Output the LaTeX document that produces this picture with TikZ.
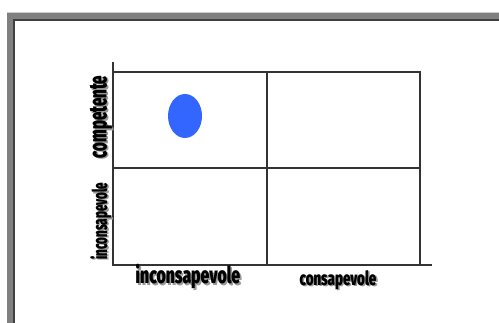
\documentclass[tikz,border=0pt]{standalone}
\usepackage{fontspec}
\setmainfont{Liberation Sans}
\newfontfamily\heavyfont{Fira Sans}[UprightFont={* Black}]
\usepackage{graphicx}
\usetikzlibrary{positioning}
\definecolor{frameGray}{RGB}{128,128,128}
\definecolor{frameDark}{RGB}{64,64,64}
\definecolor{dotBlue}{RGB}{51,102,255}
% squeeze a heavy label into a given width and total height
\newcommand{\squeezed}[3]{\resizebox*{#1}{#2}{\heavyfont #3}}
\tikzset{
  gridline/.style={draw=black!80, line width=0.6pt},
  lbl/.style={inner sep=0pt, text=black},
  lblshadow/.style={inner sep=0pt, text=black!40, xshift=0.9pt, yshift=-0.9pt},
}

\begin{document}
\begin{tikzpicture}[x=0.02cm, y=-0.02cm]
  \useasboundingbox (0,0) rectangle (499,323);
  % window frame
  \fill[frameGray] (7,12) rectangle (499,323);
  \fill[white] (14,20) rectangle (499,323);
  \draw[black!20, line width=0.6pt] (7,12.3) -- (499,12.3);
  \draw[frameDark, line width=0.8pt] (14,323) -- (14,20) -- (499,20);

  % chart corners
  \coordinate (org) at (113,265);
  \coordinate (ytop) at (113,62);
  \coordinate (xend) at (432,265);
  \coordinate (tl) at (113,72);
  \coordinate (tr) at (420,72);
  \coordinate (br) at (420,265);
  \coordinate (ml) at (113,168);
  \coordinate (mr) at (420,168);
  \coordinate (mt) at (267,72);
  \coordinate (mb) at (267,265);

  \draw[gridline] (ytop) -- (org) -- (xend);
  \draw[gridline] (tl) -- (tr) -- (br);
  \draw[gridline] (ml) -- (mr);
  \draw[gridline] (mt) -- (mb);

  % marker
  \fill[dotBlue] (185,116) ellipse [x radius=17, y radius=22];

  % axis labels
  \node[lblshadow] at (188,276.5) {\squeezed{59.5pt}{14pt}{inconsapevole}};
  \node[lbl] (xlow) at (188,276.5) {\squeezed{59.5pt}{14pt}{inconsapevole}};
  \node[lblshadow] at (338,280) {\squeezed{43.7pt}{11pt}{consapevole}};
  \node[lbl] (xhigh) at (338,280) {\squeezed{43.7pt}{11pt}{consapevole}};
  \node[lblshadow, rotate=90] at (101,117) {\squeezed{47pt}{12.8pt}{competente}};
  \node[lbl, rotate=90] (yhigh) at (101,117) {\squeezed{47pt}{12.8pt}{competente}};
  \node[lblshadow, rotate=90] at (101,221) {\squeezed{43.7pt}{12.2pt}{inconsapevole}};
  \node[lbl, rotate=90] (ylow) at (101,221) {\squeezed{43.7pt}{12.2pt}{inconsapevole}};
\end{tikzpicture}
\end{document}
